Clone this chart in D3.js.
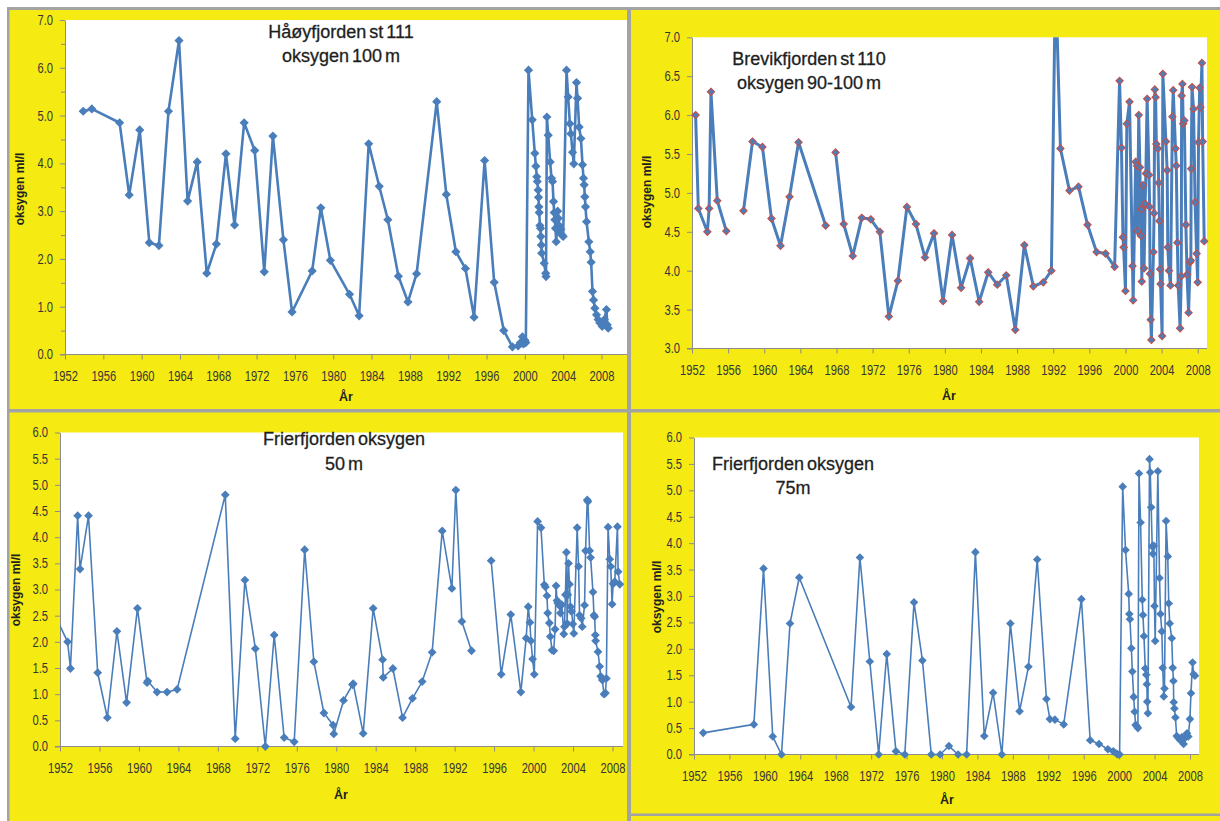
<!DOCTYPE html>
<html><head><meta charset="utf-8">
<script src="https://cdn.jsdelivr.net/npm/d3@7"></script>
<style>
html,body{margin:0;padding:0;background:#fff;}
svg{display:block;}
</style></head><body>
<svg id="chart" width="1220" height="821"></svg>
<script>
// ---------------- DATA ----------------
const xTickYears = [1952,1956,1960,1964,1968,1972,1976,1980,1984,1988,1992,1996,2000,2004,2008];
const yTicks7 = [0,1,2,3,4,5,6,7];
const yMinor7 = [0.5,1.5,2.5,3.5,4.5,5.5,6.5];
const yTicks37 = [3,3.5,4,4.5,5,5.5,6,6.5,7];
const yTicks6 = [0,0.5,1,1.5,2,2.5,3,3.5,4,4.5,5,5.5,6];

const titleH = ["Håøyfjorden st 111", "oksygen 100 m"];
const titleB = ["Brevikfjorden st 110", "oksygen 90-100 m"];
const titleF50 = ["Frierfjorden oksygen", "50 m"];
const titleF75 = ["Frierfjorden oksygen", "75m"];
const yAxisTitle = "oksygen ml/l";
const xAxisTitle = "År";

// Håøyfjorden st 111, 100 m
const hYears = [1953.9,1954.8,1957.7,1958.7,1959.8,1960.8,1961.8,1962.8,1963.9,1964.8,1965.8,1966.8,1967.8,1968.8,1969.7,1970.7,1971.8,1972.8,1973.7,1974.8,1975.7,1977.8,1978.7,1979.7,1981.7,1982.7,1983.7,1984.8,1985.7,1986.8,1987.8,1988.7,1990.8,1991.8,1992.8,1993.8,1994.7,1995.8,1996.8,1997.8,1998.7,1999.3,1999.55,1999.75,1999.85,2000.0,2000.1,
2000.38,2000.77,2001.04,2001.15,2001.25,2001.3,2001.39,2001.43,2001.46,2001.5,2001.57,2001.64,2001.67,2001.72,2001.76,2002.02,2002.17,2002.21,2002.3,2002.44,2002.64,2002.78,2002.89,2002.99,2003.06,2003.13,2003.2,2003.27,2003.35,2003.42,2003.5,2003.58,2003.65,2003.76,2003.88,2004.0,
2004.35,2004.52,2004.7,2004.8,2004.98,2005.11,2005.39,2005.5,2005.67,2005.85,2006.02,2006.12,2006.19,2006.26,2006.33,2006.44,2006.68,2006.82,2006.92,2007.06,2007.17,2007.31,2007.48,2007.65,2007.83,2008.07,2008.2,2008.3,2008.52,2008.6,2008.7];
const hValues = [5.09,5.14,4.85,3.34,4.70,2.34,2.28,5.09,6.57,3.21,4.03,1.70,2.31,4.20,2.71,4.85,4.27,1.73,4.57,2.40,0.89,1.75,3.07,1.97,1.26,0.81,4.41,3.52,2.82,1.64,1.10,1.69,5.29,3.35,2.15,1.80,0.78,4.06,1.51,0.50,0.16,0.18,0.25,0.37,0.22,0.30,0.25,
5.95,4.91,4.21,3.94,3.72,3.62,3.44,3.29,3.09,2.97,2.70,2.64,2.47,2.29,2.12,1.91,1.70,1.63,4.97,4.59,4.03,3.69,3.62,3.20,2.97,2.82,2.64,2.36,2.62,3.00,2.85,2.70,2.56,2.62,2.50,2.47,
5.95,5.39,4.83,4.62,4.23,3.99,5.69,5.36,4.76,4.52,3.97,3.69,3.55,3.30,3.09,2.78,2.36,2.15,1.93,1.32,1.14,0.97,0.83,0.73,0.66,0.59,0.64,0.73,0.94,0.62,0.55];

// Brevikfjorden st 110, 90-100 m (null = gap in the line)
const bYears = [1952.4,1952.7,1953.7,1953.9,1954.1,1954.8,1955.8,1956.8,1957.7,1958.7,1959.8,1960.8,1961.8,1962.8,1963.8,1966.8,1967.4,1967.9,1968.8,1969.8,1970.8,1971.8,1972.8,1973.8,1974.8,1975.8,1976.8,1977.8,1978.8,1979.8,1980.8,1981.8,1982.8,1983.8,1984.8,1985.8,1986.8,1987.8,1988.8,1989.8,1990.9,1991.8,1992.25,1992.8,1993.8,1994.8,1995.8,1996.8,1997.8,1998.8,
1999.35,1999.56,1999.72,1999.8,2000.0,2000.15,2000.45,2000.78,2000.85,2001.13,2001.28,2001.34,2001.47,2001.6,2001.7,2001.76,2001.81,2001.94,2002.06,2002.18,2002.26,2002.4,2002.61,2002.68,2002.72,2002.8,2002.87,2003.1,2003.17,2003.25,2003.34,2003.42,2003.6,2003.68,2003.76,2003.84,2003.89,2004.06,2004.14,2004.48,2004.62,2004.69,2004.82,2004.99,2005.2,2005.29,2005.54,2005.63,2005.75,2005.84,2006.05,2006.18,2006.22,2006.31,2006.39,2006.52,2006.69,2006.82,2006.99,2007.16,2007.24,2007.28,2007.37,2007.54,2007.71,2007.88,2008.0,2008.09,2008.22,2008.3,2008.47,2008.55,2008.72];
const bValues = [6.0,4.80,4.50,4.80,6.30,4.90,4.51,null,4.77,5.66,5.59,4.67,4.32,4.95,5.65,4.58,null,5.52,4.60,4.19,4.68,4.66,4.50,3.41,3.87,4.82,4.60,4.17,4.48,3.61,4.46,3.78,4.16,3.60,3.98,3.82,3.94,3.24,4.33,3.80,3.85,4.00,7.80,5.57,5.03,5.08,4.59,4.24,4.22,4.05,
6.44,5.58,4.43,4.30,3.74,5.89,6.17,4.06,3.62,5.40,5.35,4.51,6.00,5.33,4.45,4.79,3.86,5.10,4.03,4.86,5.25,6.21,5.23,4.82,3.96,3.37,3.11,4.24,4.74,6.33,6.23,5.63,5.57,5.13,4.64,4.02,3.83,3.16,6.53,5.66,5.29,4.30,4.00,3.81,5.98,6.32,5.57,5.35,4.36,3.81,3.26,3.93,6.25,6.40,5.89,5.93,4.59,3.95,3.46,4.11,4.13,5.31,6.36,6.08,4.88,4.22,3.85,5.65,6.35,6.10,6.67,5.66,4.38];

// Frierfjorden 50 m
const f50Years = [1951.5,1952.77,1953.06,1953.79,1954.03,1954.89,1955.82,1956.8,1957.77,1958.75,1959.85,1960.82,1960.9,1961.84,1962.85,1963.87,1968.75,1969.76,1970.74,1971.8,1972.81,1973.71,1974.72,1975.74,1976.8,1977.73,1978.75,1979.68,1979.75,1980.74,1981.65,1981.72,1982.73,1983.74,1984.7,1984.76,1985.74,1986.72,1987.73,1988.71,1989.72,1990.74,1991.72,1992.12,1992.73,1993.71,1994.7,1995.7,1996.72,1997.69,1998.71,
1999.25,1999.46,1999.63,1999.73,1999.9,2000.07,2000.41,2000.75,2001.09,2001.2,2001.36,2001.43,2001.6,2001.7,2001.87,2002.04,2002.18,2002.28,2002.38,2002.45,2002.62,2002.72,2002.86,2003.06,2003.13,2003.23,2003.33,2003.4,2003.47,2003.54,2003.64,2003.74,2003.85,2003.98,2004.08,2004.42,2004.56,2004.66,2004.83,2004.93,2005.17,2005.27,2005.44,2005.51,2005.68,2005.78,2006.02,2006.12,2006.19,2006.26,2006.29,2006.53,2006.7,2006.8,2006.97,2007.14,2007.28,2007.38,2007.55,2007.72,2007.82,2007.96,2008.06,2008.23,2008.5,2008.57,2008.74];
const f50Values = [2.5,2.0,1.49,4.41,3.39,4.41,1.41,0.55,2.20,0.84,2.64,1.22,1.25,1.04,1.04,1.09,4.81,0.15,3.18,1.87,0.0,2.13,0.17,0.09,3.76,1.62,0.64,0.41,0.24,0.88,1.18,1.20,0.25,2.64,1.66,1.32,1.49,0.55,0.92,1.24,1.80,4.12,3.02,4.90,2.39,1.83,null,3.55,1.38,2.52,1.04,
2.07,2.67,2.37,2.02,1.67,1.38,4.30,4.18,3.09,3.05,2.88,2.55,2.36,2.10,1.84,1.83,2.24,3.07,2.79,2.74,2.69,2.55,2.71,2.15,2.29,2.90,3.71,2.35,2.90,3.50,3.10,2.67,2.58,2.34,2.16,4.18,3.44,2.51,2.45,2.29,2.70,3.74,4.71,4.68,3.74,3.61,2.95,2.51,2.48,2.13,2.02,1.81,1.53,1.34,1.27,1.00,1.02,1.30,4.19,3.58,3.44,2.72,3.11,3.15,4.20,3.34,3.10];

// Frierfjorden 75 m
const f75Years = [1953.04,1958.76,1959.85,1960.89,1961.88,1962.84,1963.88,1969.73,1970.73,1971.85,1972.85,1973.76,1974.8,1975.8,1976.84,1977.79,1978.79,1979.79,1980.78,1981.82,1982.78,1983.77,1984.77,1985.77,1986.76,1987.72,1988.76,1989.76,1990.75,1991.79,1992.18,1992.75,1993.74,1995.74,1996.73,1997.73,1998.73,1999.34,1999.69,1999.85,2000.05,
2000.4,2000.72,2001.08,2001.15,2001.22,2001.38,2001.49,2001.64,2001.75,2001.86,2002.01,2002.12,2002.24,2002.42,2002.61,2002.69,2002.8,2002.95,2003.06,2003.13,2003.17,2003.25,2003.43,2003.51,2003.62,2003.73,2003.81,2003.92,2003.99,2004.07,2004.37,2004.56,2004.67,2004.82,2004.92,2005.04,2005.12,2005.3,2005.49,2005.6,2005.71,2005.94,2006.05,2006.13,2006.16,2006.24,2006.35,2006.5,2006.69,2006.91,2007.1,2007.28,2007.43,2007.66,2007.81,2007.99,2008.11,2008.29,2008.41,2008.56];
const f75Values = [0.41,0.57,3.52,0.34,0.0,2.48,3.35,0.90,3.73,1.76,0.0,1.90,0.06,0.0,2.88,1.78,0.0,0.0,0.16,0.0,0.0,3.83,0.35,1.17,0.0,2.48,0.82,1.66,3.69,1.05,0.67,0.66,0.57,2.94,0.27,0.20,0.10,0.06,0.02,0.0,0.0,
5.07,3.87,3.04,2.66,2.56,2.01,1.57,1.09,0.81,0.56,0.53,0.50,5.32,4.39,2.93,2.64,2.24,1.63,1.51,1.33,1.00,0.78,5.59,5.34,4.68,3.94,3.80,3.95,2.81,2.15,5.36,3.34,2.66,2.33,1.64,1.10,1.25,4.42,3.75,2.86,2.48,2.20,1.64,1.39,0.99,0.87,0.70,0.35,0.31,0.27,0.33,0.20,0.31,0.40,0.34,0.67,1.16,1.74,1.52,1.49];

// ---------------- DRAWING ----------------
const YELLOW = "#f5ea12";
const FRAME = "#a3a3a3";
const BLUE = "#4a7ebb";
const AXIS = "#8c8c8c";
const SANS = "'Liberation Sans',Arial,sans-serif";
const TICK_FS = 14, SQUEEZE = 0.8, YGAP = 12;

const svg = d3.select("#chart");
svg.append("rect").attr("width",1220).attr("height",821).attr("fill","#fff");
svg.append("rect").attr("x",7).attr("y",7).attr("width",1213).attr("height",814).attr("fill",FRAME);

const boxes = [
  {x:9.5, y:10, w:617.5, h:399},
  {x:631, y:10, w:589, h:399},
  {x:9.5, y:412.5, w:617.5, h:408.5},
  {x:631, y:412.5, w:589, h:401},
  {x:631, y:816, w:589, h:5}
];
boxes.forEach(b => svg.append("rect").attr("x",b.x).attr("y",b.y).attr("width",b.w).attr("height",b.h).attr("fill",YELLOW));

const panels = [
  {id:"p1", years:hYears, values:hValues, title:titleH, yDom:[0,7], yTicks:yTicks7, yMinor:yMinor7,
   plot:{x0:65, xEnd:601.5, x1:627, y0:20, y1:354.5},
   lw:2.6, r:4.6, mStroke:null, titleX:341, titleY:[32,56],
   yTitle:{x:20, y:189}, xTitle:{x:346, y:397}},
  {id:"p2", years:bYears, values:bValues, title:titleB, yDom:[3,7], yTicks:yTicks37, yMinor:[],
   plot:{x0:692, xEnd:1197.7, x1:1207, y0:37.3, y1:348.5},
   lw:3.0, r:3.6, mStroke:"#c0504d", titleX:809, titleY:[59,83],
   yTitle:{x:647, y:192}, xTitle:{x:949, y:396}},
  {id:"p3", years:f50Years, values:f50Values, title:titleF50, yDom:[0,6], yTicks:yTicks6, yMinor:[],
   plot:{x0:60, xEnd:612.5, x1:623, y0:432.5, y1:746.5},
   lw:1.6, r:4.4, mStroke:null, titleX:344, titleY:[439,464],
   yTitle:{x:16, y:590}, xTitle:{x:341, y:795}},
  {id:"p4", years:f75Years, values:f75Values, title:titleF75, yDom:[0,6], yTicks:yTicks6, yMinor:[],
   plot:{x0:694, xEnd:1190, x1:1199, y0:437.5, y1:754.5},
   lw:1.6, r:4.3, mStroke:null, titleX:793, titleY:[464,488],
   yTitle:{x:657, y:597}, xTitle:{x:947, y:800}}
];

panels.forEach(p => {
  const P = p.plot;
  const g = svg.append("g");
  const x = d3.scaleLinear().domain([1952,2008]).range([P.x0, P.xEnd]);
  const y = d3.scaleLinear().domain(p.yDom).range([P.y1, P.y0]);

  g.append("rect").attr("x",P.x0).attr("y",P.y0).attr("width",P.x1-P.x0).attr("height",P.y1-P.y0).attr("fill","#fff");

  // y axis
  const ya = g.append("g").attr("transform",`translate(${P.x0},0)`)
    .call(d3.axisLeft(y).tickValues(p.yTicks).tickSize(5).tickSizeOuter(0).tickFormat(d3.format(".1f")));
  ya.select(".domain").attr("stroke",AXIS);
  ya.selectAll(".tick line").attr("stroke",AXIS);
  ya.selectAll("text").attr("font-family",SANS).attr("font-size",TICK_FS).attr("fill","#363636")
    .attr("x", -YGAP / SQUEEZE).attr("transform",`scale(${SQUEEZE},1)`);
  if (p.yMinor.length) {
    g.append("g").attr("transform",`translate(${P.x0},0)`)
      .call(d3.axisLeft(y).tickValues(p.yMinor).tickSize(4).tickFormat(""))
      .call(s => { s.select(".domain").remove(); s.selectAll("line").attr("stroke",AXIS); });
  }
  // x axis
  const xa = g.append("g").attr("transform",`translate(0,${P.y1})`)
    .call(d3.axisBottom(x).tickValues(xTickYears).tickSize(5).tickSizeOuter(0).tickPadding(11.5).tickFormat(d3.format("d")));
  xa.select(".domain").remove();
  xa.selectAll(".tick line").attr("stroke",AXIS);
  xa.selectAll("text").attr("font-family",SANS).attr("font-size",TICK_FS).attr("fill","#363636")
    .attr("transform",`scale(${SQUEEZE},1)`);
  g.append("line").attr("x1",P.x0-5).attr("x2",P.x1).attr("y1",P.y1).attr("y2",P.y1).attr("stroke",AXIS);

  // data
  const pts = p.years.map((yr,i) => [yr, p.values[i]]);
  const clipId = "clip-" + p.id;
  svg.append("clipPath").attr("id",clipId).append("rect")
    .attr("x",P.x0).attr("y",P.y0).attr("width",P.x1-P.x0).attr("height",P.y1-P.y0+6);
  const line = d3.line().defined(d => d[1] !== null).x(d => x(d[0])).y(d => y(d[1]));
  g.append("path").attr("d", line(pts)).attr("fill","none").attr("stroke",BLUE)
    .attr("stroke-width",p.lw).attr("stroke-linejoin","round").attr("clip-path",`url(#${clipId})`);

  const vis = pts.filter(d => d[1] !== null && d[0] >= 1952 && d[1] <= p.yDom[1]);
  g.append("g").selectAll("path").data(vis).join("path")
    .attr("d", d => { const cx = x(d[0]), cy = y(d[1]), r = p.r;
      return `M${cx},${cy-r}L${cx+r},${cy}L${cx},${cy+r}L${cx-r},${cy}Z`; })
    .attr("fill",BLUE)
    .attr("stroke", p.mStroke || "none").attr("stroke-width", p.mStroke ? 1.1 : 0);

  // titles
  p.title.forEach((t,i) => g.append("text").attr("x",p.titleX).attr("y",p.titleY[i]).attr("dy","0.36em")
    .attr("text-anchor","middle").attr("font-family",SANS).attr("font-size",18).attr("word-spacing",-2)
    .attr("fill","#1e1e1e").attr("stroke","#1e1e1e").attr("stroke-width",0.3).text(t));
  g.append("text").attr("transform",`translate(${p.yTitle.x},${p.yTitle.y}) rotate(-90)`).attr("dy","0.35em")
    .attr("text-anchor","middle").attr("font-family",SANS).attr("font-weight","bold").attr("font-size",12)
    .attr("fill","#222").text(yAxisTitle);
  g.append("text").attr("x",p.xTitle.x).attr("y",p.xTitle.y).attr("dy","0.35em")
    .attr("text-anchor","middle").attr("font-family",SANS).attr("font-weight","bold").attr("font-size",12.5)
    .attr("fill","#222").text(xAxisTitle);
});
</script>
</body></html>
